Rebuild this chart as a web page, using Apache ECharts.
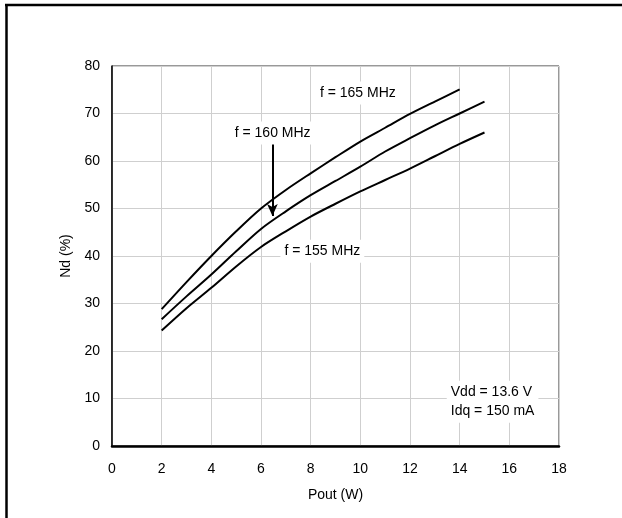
<!DOCTYPE html>
<html>
<head>
<meta charset="utf-8">
<script src="https://cdn.jsdelivr.net/npm/echarts@6/dist/echarts.min.js"></script>
<style>
html,body{margin:0;padding:0;background:#fff;}
#c{width:622px;height:518px;}
</style>
</head>
<body>
<div id="c"></div>
<script>
var xTicks = [0, 2, 4, 6, 8, 10, 12, 14, 16, 18];
var yTicks = [0, 10, 20, 30, 40, 50, 60, 70, 80];
var pout165 = [2, 3, 4, 5, 6, 7, 8, 9, 10, 11, 12, 13, 14];
var nd165 = [28.8, 34.5, 40.0, 45.2, 50.0, 53.9, 57.4, 60.8, 64.1, 67.0, 69.9, 72.5, 75.1];
var pout160 = [2, 3, 4, 5, 6, 7, 8, 9, 10, 11, 12, 13, 14, 15];
var nd160 = [26.7, 31.5, 36.1, 41.0, 45.7, 49.4, 52.8, 55.8, 58.8, 62.0, 64.8, 67.5, 70.0, 72.5];
var pout155 = [2, 3, 4, 5, 6, 7, 8, 9, 10, 11, 12, 13, 14, 15];
var nd155 = [24.3, 29.0, 33.3, 37.8, 41.9, 45.2, 48.3, 51.0, 53.6, 56.0, 58.4, 61.0, 63.6, 66.0];
var annotations = [
  {text: 'f = 165 MHz', x: 9.9, y: 74.3, align: 'center'},
  {text: 'f = 160 MHz', x: 6.47, y: 65.9, align: 'center'},
  {text: 'f = 155 MHz', x: 8.47, y: 41.0, align: 'center'},
  {text: 'Vdd = 13.6 V\nIdq = 150 mA', x: 13.48, y: 9.3, align: 'left'}
];
var arrowFrom = [6.46, 63.6];
var arrowTo = [6.46, 48.4];

function pairs(xs, ys){ return xs.map(function(x,i){return [x, ys[i]];}); }

var FONT = '"Liberation Sans", Arial, sans-serif';
var chart = echarts.init(document.getElementById('c'), null, {renderer:'canvas'});
var lineStyle = {color:'#000', width:2};
chart.setOption({
  animation:false,
  backgroundColor:'#fff',
  grid:{left:112, right:63, top:66, bottom:72, show:true, borderColor:'#333', borderWidth:1, backgroundColor:'transparent'},
  xAxis:{type:'value', min:0, max:18, interval:2,
    name:'Pout (W)', nameLocation:'middle', nameGap:42,
    nameTextStyle:{fontFamily:FONT, fontSize:14, color:'#000'},
    axisLine:{show:true, onZero:false, lineStyle:{color:'#000', width:2.5}},
    axisTick:{show:false},
    axisLabel:{fontFamily:FONT, fontSize:14, color:'#000', margin:16,
      formatter:function(v){ return xTicks.indexOf(v) >= 0 ? String(v) : ''; }},
    splitLine:{show:true, lineStyle:{color:'#cfcfcf', width:1}}
  },
  yAxis:{type:'value', min:0, max:80, interval:10,
    name:'Nd (%)', nameLocation:'middle', nameGap:36, nameRotate:90,
    nameTextStyle:{fontFamily:FONT, fontSize:14, color:'#000'},
    axisLine:{show:true, onZero:false, lineStyle:{color:'#000', width:1.5}},
    axisTick:{show:false},
    axisLabel:{fontFamily:FONT, fontSize:14, color:'#000', margin:12,
      formatter:function(v){ return yTicks.indexOf(v) >= 0 ? String(v) : ''; }},
    splitLine:{show:true, lineStyle:{color:'#cfcfcf', width:1}}
  },
  series:[
    {name:'165 MHz', type:'line', data:pairs(pout165, nd165), showSymbol:false, symbol:'none', smooth:0.3, lineStyle:lineStyle, z:3},
    {name:'160 MHz', type:'line', data:pairs(pout160, nd160), showSymbol:false, symbol:'none', smooth:0.3, lineStyle:lineStyle, z:3,
      markLine:{silent:true, symbol:['none','arrow'], symbolSize:[8,12], label:{show:false},
        lineStyle:{color:'#000', width:2, type:'solid'},
        data:[[{coord:arrowFrom}, {coord:arrowTo}]]}},
    {name:'155 MHz', type:'line', data:pairs(pout155, nd155), showSymbol:false, symbol:'none', smooth:0.3, lineStyle:lineStyle, z:3}
  ]
});

var gfx = [
  {type:'line', shape:{x1:5, y1:5, x2:622, y2:5}, style:{stroke:'#000', lineWidth:2.5}, z:10},
  {type:'line', shape:{x1:6.5, y1:5, x2:6.5, y2:518}, style:{stroke:'#000', lineWidth:2.5}, z:10}
];
annotations.forEach(function(a){
  var p = chart.convertToPixel({gridIndex:0}, [a.x, a.y]);
  gfx.push({type:'text', x:p[0], y:p[1], z:5,
    style:{text:a.text, font:'14px ' + FONT, fill:'#000', align:a.align, verticalAlign:'middle',
      backgroundColor:'#fff', padding:[2,4,2,4], lineHeight:19}});
});
chart.setOption({graphic:gfx});
</script>
</body>
</html>
